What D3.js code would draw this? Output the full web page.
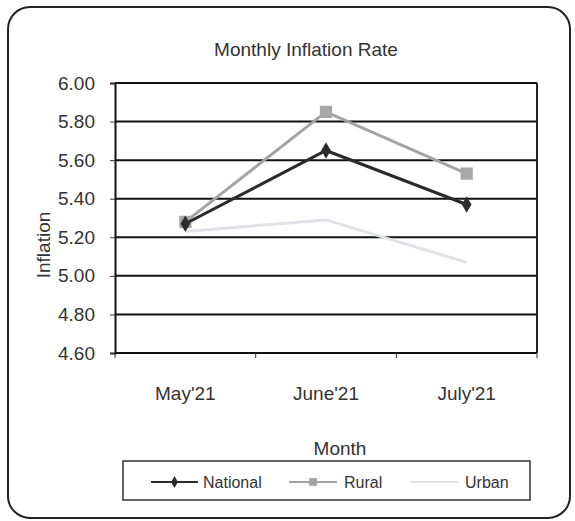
<!DOCTYPE html>
<html>
<head>
<meta charset="utf-8">
<script src="https://cdn.jsdelivr.net/npm/d3@7"></script>
<style>
  body { margin: 0; background: #fff; }
  text { font-family: "Liberation Sans", Arial, sans-serif; fill: #333; }
</style>
</head>
<body>
<div id="chart"></div>
<script>
// data
const months = ["May'21", "June'21", "July'21"];
const national = [5.27, 5.65, 5.37];
const rural = [5.28, 5.85, 5.53];
const urban = [5.23, 5.29, 5.07];
const yTicks = [4.60, 4.80, 5.00, 5.20, 5.40, 5.60, 5.80, 6.00];

const W = 575, H = 521;
const margin = { top: 83, right: 38, bottom: 168, left: 115 };
const width = W - margin.left - margin.right;
const height = H - margin.top - margin.bottom;

const root = d3.select("#chart").append("svg")
    .attr("width", W)
    .attr("height", H);

// outer rounded frame
root.append("rect")
    .attr("x", 8).attr("y", 7)
    .attr("width", 562).attr("height", 511)
    .attr("rx", 22)
    .attr("fill", "#fff")
    .attr("stroke", "#222")
    .attr("stroke-width", 2);

// title
root.append("text")
    .attr("x", 306).attr("y", 56)
    .attr("text-anchor", "middle")
    .style("font-size", "19px")
    .text("Monthly Inflation Rate");

const svg = root.append("g")
    .attr("transform", `translate(${margin.left},${margin.top})`);

const x = d3.scaleBand().domain(months).range([0, width]);
const y = d3.scaleLinear().domain([4.6, 6.0]).range([height, 0]);

// horizontal grid
svg.selectAll(".grid")
    .data(yTicks)
    .enter()
    .append("line")
    .attr("x1", 0).attr("x2", width)
    .attr("y1", d => y(d)).attr("y2", d => y(d))
    .attr("stroke", "#111")
    .attr("stroke-width", 2);

// right border of plot
svg.append("line")
    .attr("x1", width).attr("x2", width)
    .attr("y1", 0).attr("y2", height)
    .attr("stroke", "#222").attr("stroke-width", 2);

// y axis
const yAxis = svg.append("g")
    .call(d3.axisLeft(y).tickValues(yTicks).tickFormat(d3.format(".2f")).tickSize(5).tickPadding(15));
yAxis.select(".domain").attr("stroke", "#111").attr("stroke-width", 2);
yAxis.selectAll(".tick line").attr("stroke", "#333");
yAxis.selectAll("text").style("font-size", "19px").attr("fill", "#333");

// x axis: labels at centres, ticks at band edges
const xAxis = svg.append("g")
    .attr("transform", `translate(0,${height})`)
    .call(d3.axisBottom(x).tickSize(0).tickPadding(34));
xAxis.select(".domain").remove();
xAxis.selectAll("text").style("font-size", "19px").attr("fill", "#333");

const edges = months.map(m => x(m)).concat([width]);
svg.selectAll(".xtick")
    .data(edges)
    .enter()
    .append("line")
    .attr("x1", d => d).attr("x2", d => d)
    .attr("y1", height).attr("y2", height + 5)
    .attr("stroke", "#333");

// axis titles
root.append("text")
    .attr("x", 340).attr("y", 455)
    .attr("text-anchor", "middle")
    .style("font-size", "19px")
    .text("Month");

root.append("text")
    .attr("transform", "translate(50,245) rotate(-90)")
    .attr("text-anchor", "middle")
    .style("font-size", "19px")
    .text("Inflation");

// series
const cx = i => x(months[i]) + x.bandwidth() / 2;
const line = d3.line()
    .x((d, i) => cx(i))
    .y(d => y(d));

const series = [
    { name: "Urban", values: urban, color: "#dfe2e7", marker: null },
    { name: "Rural", values: rural, color: "#a3a3a3", marker: "square" },
    { name: "National", values: national, color: "#2b2b2b", marker: "diamond" }
];

series.forEach(s => {
    svg.append("path")
        .datum(s.values)
        .attr("d", line)
        .attr("fill", "none")
        .attr("stroke", s.color)
        .attr("stroke-width", 3);
    if (s.marker) {
        const sym = d3.symbol()
            .type(s.marker === "square" ? d3.symbolSquare : d3.symbolDiamond)
            .size(s.marker === "square" ? 150 : 80);
        svg.selectAll(".m-" + s.name)
            .data(s.values)
            .enter()
            .append("path")
            .attr("d", sym)
            .attr("transform", (d, i) => `translate(${cx(i)},${y(d)})`)
            .attr("fill", s.marker === "square" ? "#a8a8a8" : "#2b2b2b");
    }
});

// legend
const legend = root.append("g");
legend.append("rect")
    .attr("x", 123).attr("y", 461)
    .attr("width", 407).attr("height", 39)
    .attr("fill", "#fff")
    .attr("stroke", "#333")
    .attr("stroke-width", 1.5);

const legendItems = [
    { name: "National", color: "#2b2b2b", marker: d3.symbolDiamond, msize: 40, x1: 151, x2: 198, tx: 203 },
    { name: "Rural", color: "#a3a3a3", marker: d3.symbolSquare, msize: 60, x1: 289, x2: 337, tx: 344 },
    { name: "Urban", color: "#dfe2e7", marker: null, msize: 0, x1: 410, x2: 458, tx: 465 }
];
legendItems.forEach(it => {
    legend.append("line")
        .attr("x1", it.x1).attr("x2", it.x2)
        .attr("y1", 482).attr("y2", 482)
        .attr("stroke", it.color)
        .attr("stroke-width", 2);
    if (it.marker) {
        legend.append("path")
            .attr("d", d3.symbol().type(it.marker).size(it.msize))
            .attr("transform", `translate(${(it.x1 + it.x2) / 2},482)`)
            .attr("fill", it.color);
    }
    legend.append("text")
        .attr("x", it.tx).attr("y", 488)
        .style("font-size", "16px")
        .text(it.name);
});
</script>
</body>
</html>
